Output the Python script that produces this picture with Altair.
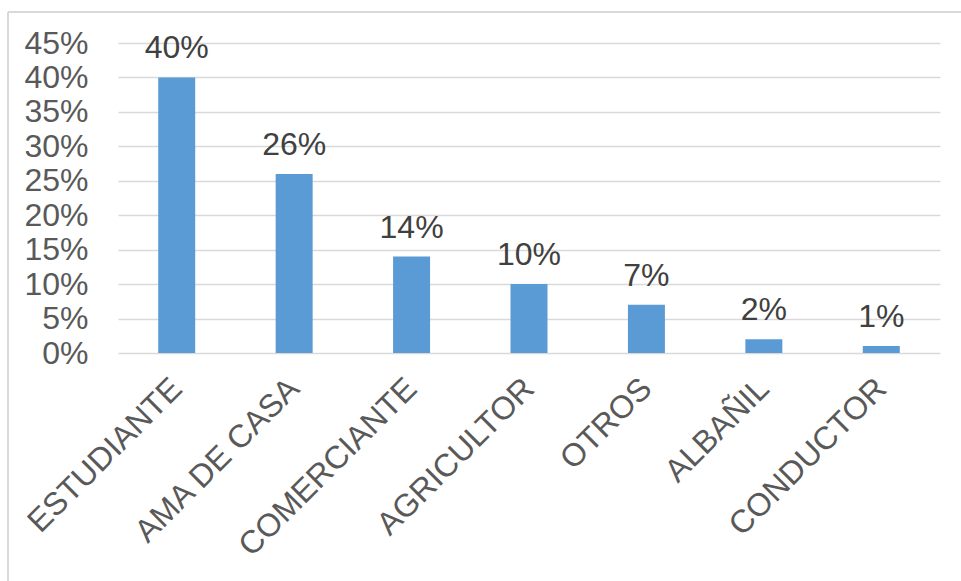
import altair as alt
import pandas as pd

categories = ["ESTUDIANTE", "AMA DE CASA", "COMERCIANTE", "AGRICULTOR", "OTROS", "ALBAÑIL", "CONDUCTOR"]
values = [0.40, 0.26, 0.14, 0.10, 0.07, 0.02, 0.01]
labels = ["40%", "26%", "14%", "10%", "7%", "2%", "1%"]
y_ticks = [0.0, 0.05, 0.10, 0.15, 0.20, 0.25, 0.30, 0.35, 0.40, 0.45]

df = pd.DataFrame({"cat": categories, "val": values, "lab": labels})

FONT = "Liberation Sans"
GRAY = "#595959"

x = alt.X("cat:N", sort=categories, title=None,
          scale=alt.Scale(paddingInner=0.685, paddingOuter=0.3425),
          axis=alt.Axis(labelAngle=-45, labelAlign="right", labelBaseline="middle",
                        labelPadding=30, labelFont=FONT, labelFontSize=32,
                        labelColor=GRAY, ticks=False, domain=False, grid=False,
                        labelLimit=400, labelOverlap=False))
y = alt.Y("val:Q", title=None,
          scale=alt.Scale(domain=[0, 0.45], nice=False),
          axis=alt.Axis(format=".0%", values=y_ticks, labelOverlap=False,
                        labelFont=FONT, labelFontSize=32, labelColor=GRAY,
                        labelPadding=30, ticks=False, domain=False,
                        gridColor="#D9D9D9", gridWidth=1.5))

bars = alt.Chart(df).mark_bar(color="#5B9BD5").encode(x=x, y=y)
text = alt.Chart(df).mark_text(dy=-19, baseline="alphabetic", font=FONT, fontSize=32,
                               color="#404040").encode(x=x, y=y, text="lab:N")

border_left = alt.Chart(df).mark_rule(color="#D9D9D9", strokeWidth=2, clip=False).encode(
    x=alt.value(-110), x2=alt.value(-110), y=alt.value(-31), y2=alt.value(540))
border_top = alt.Chart(df).mark_rule(color="#D9D9D9", strokeWidth=2, clip=False).encode(
    x=alt.value(-110), x2=alt.value(843), y=alt.value(-31), y2=alt.value(-31))

chart = alt.layer(bars, text, border_left, border_top).properties(
    width=822, height=310,
    autosize=alt.AutoSizeParams(type="none"),
    padding={"left": 118, "top": 43, "right": 21, "bottom": 228},
    background="white",
).configure_view(stroke=None)

chart.save("out.html", embed_options={"renderer": "svg", "actions": False})
